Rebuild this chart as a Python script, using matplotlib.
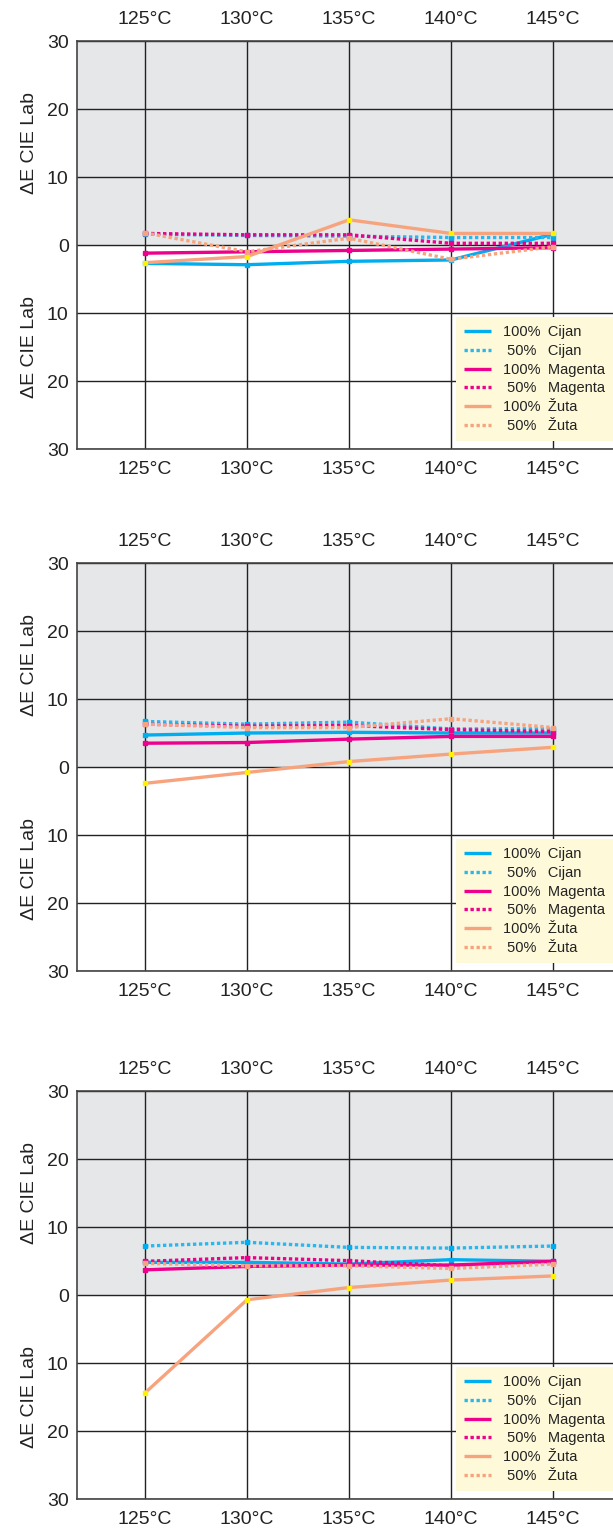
import numpy as np
import matplotlib.pyplot as plt

plt.rcParams['font.family'] = ['Liberation Sans Narrow', 'Liberation Sans', 'DejaVu Sans']

temps = [125, 130, 135, 140, 145]
temp_labels = ['125°C', '130°C', '135°C', '140°C', '145°C']

# values per panel (top, middle, bottom); negative = below zero line
cijan100 = [[-2.7, -2.9, -2.4, -2.2, 1.6],
            [4.7, 5.0, 5.1, 5.0, 5.0],
            [4.8, 4.8, 4.55, 5.2, 4.95]]
cijan50 = [[1.6, 1.4, 1.3, 1.1, 1.1],
           [6.7, 6.3, 6.6, 5.6, 5.6],
           [7.2, 7.75, 7.0, 6.9, 7.2]]
magenta100 = [[-1.2, -1.0, -0.8, -0.6, -0.4],
              [3.5, 3.6, 4.1, 4.5, 4.5],
              [3.7, 4.2, 4.4, 4.4, 4.95]]
magenta50 = [[1.7, 1.5, 1.5, 0.25, 0.25],
             [6.3, 6.0, 6.1, 5.5, 5.2],
             [4.95, 5.5, 5.05, 4.3, 4.8]]
zuta100 = [[-2.6, -1.7, 3.7, 1.7, 1.7],
           [-2.4, -0.8, 0.8, 1.9, 2.9],
           [-14.4, -0.7, 1.1, 2.2, 2.8]]
zuta50 = [[1.8, -1.0, 1.0, -2.1, -0.25],
          [6.3, 5.8, 5.8, 7.1, 5.8],
          [4.65, 4.3, 4.3, 3.9, 4.55]]

yticks = [-30, -20, -10, 0, 10, 20, 30]
ytick_labels = ['30', '20', '10', '0', '10', '20', '30']

cyan = '#00aeef'
magenta = '#ec008c'
orange = '#f7a47e'
yellow = '#fff200'

series = [
    (cijan100, cyan, '-', cyan, '100%\u2002Cijan'),
    (cijan50, '#27b8f0', (0, (1, 0.8)), cyan, '\u200850%\u2008\u2002Cijan'),
    (magenta100, magenta, '-', magenta, '100%\u2002Magenta'),
    (magenta50, magenta, (0, (1, 0.8)), magenta, '\u200850%\u2008\u2002Magenta'),
    (zuta100, orange, '-', yellow, '100%\u2002Žuta'),
    (zuta50, orange, (0, (1, 0.8)), orange, '\u200850%\u2008\u2002Žuta'),
]

fig = plt.figure(figsize=(6.13, 15.38), dpi=100)
H = 1538.0
bottoms = [449, 971, 1499]

for p, b in enumerate(bottoms):
    ax = fig.add_axes([77 / 613, 1 - b / H, 0.8744, 408 / H])
    ax.axhspan(0, 30, color='#e6e7e8', zorder=0)
    ax.set_xlim(121.667, 147.94)
    ax.set_ylim(-30, 30)
    ax.set_xticks(temps)
    ax.set_xticklabels(temp_labels)
    ax.set_yticks(yticks)
    ax.set_yticklabels(ytick_labels)
    ax.tick_params(axis='both', length=0, labelsize=14, colors='#222222')
    ax.tick_params(axis='x', top=True, labeltop=True, pad=9)
    ax.tick_params(axis='y', pad=6)
    ax.grid(True, color='#222222', linewidth=1.0, zorder=1)
    ax.set_axisbelow(True)
    ax.spines['right'].set_visible(False)
    for s in ['left', 'top', 'bottom']:
        ax.spines[s].set_color('#444444')
        ax.spines[s].set_linewidth(1.2)

    for vals, col, ls, mcol, lab in series:
        ax.plot(temps, vals[p], color=col, linestyle=ls, linewidth=2.4,
                solid_capstyle='butt', dash_capstyle='butt', label=lab, zorder=3)
        ax.plot(temps, vals[p], linestyle='none', marker='s', markersize=3.2,
                color=mcol, zorder=4)

    ax.text(-0.088, 0.75, 'ΔE CIE Lab', transform=ax.transAxes, rotation=90,
            ha='center', va='center', fontsize=14, color='#222222')
    ax.text(-0.088, 0.25, 'ΔE CIE Lab', transform=ax.transAxes, rotation=90,
            ha='center', va='center', fontsize=14, color='#222222')

    leg = ax.legend(loc='lower right', bbox_to_anchor=(1.0, 0.02), borderaxespad=0,
                    fontsize=10.5, frameon=True, fancybox=False, framealpha=1,
                    facecolor='#fef9d9', edgecolor='none', handlelength=1.9,
                    handletextpad=0.8, labelspacing=0.32, borderpad=0.55)
    for t in leg.get_texts():
        t.set_color('#222222')

fig.savefig('out.png', dpi=100)
